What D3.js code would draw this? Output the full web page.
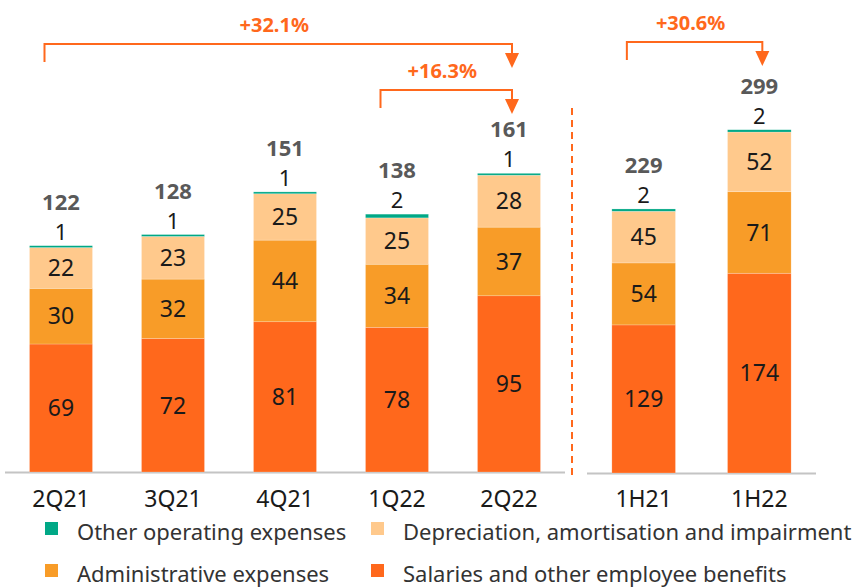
<!DOCTYPE html>
<html>
<head>
<meta charset="utf-8">
<script src="https://cdn.jsdelivr.net/npm/d3@7"></script>
<style>
  html, body { margin: 0; padding: 0; background: #fff; }
  svg { display: block; }
</style>
</head>
<body>
<div id="chart"></div>
<script>
// values in EUR m
const quarters = ["2Q21", "3Q21", "4Q21", "1Q22", "2Q22"];
const halves = ["1H21", "1H22"];

const salariesQ = [69, 72, 81, 78, 95];
const adminQ = [30, 32, 44, 34, 37];
const deprQ = [22, 23, 25, 25, 28];
const otherQ = [1, 1, 1, 2, 1];
const totalQ = [122, 128, 151, 138, 161];

const salariesH = [129, 174];
const adminH = [54, 71];
const deprH = [45, 52];
const otherH = [2, 2];
const totalH = [229, 299];

const seriesNames = [
  "Salaries and other employee benefits",
  "Administrative expenses",
  "Depreciation, amortisation and impairment",
  "Other operating expenses"
];
const legendOrder = [3, 2, 1, 0];

const growthQ = [
  {from: "2Q21", to: "2Q22", label: "+32.1%"},
  {from: "1Q22", to: "2Q22", label: "+16.3%"}
];
const growthH = [
  {from: "1H21", to: "1H22", label: "+30.6%"}
];

const width = 859, height = 588;
const keys = ["salaries", "admin", "depr", "other"];
const colors = ["#ff681c", "#f89c28", "#ffc98c", "#00a886"];
const orange = "#ff681c";
const font = "'Noto Sans', sans-serif";

const svg = d3.select("#chart").append("svg")
    .attr("width", width)
    .attr("height", height)
    .attr("font-family", font);

function rows(cats, s, a, d, o) {
  return cats.map((c, i) => ({cat: c, salaries: s[i], admin: a[i], depr: d[i], other: o[i]}));
}

function panel(cats, data, totals, x, y, x0, x1, growth, levels) {
  const stacked = d3.stack().keys(keys)(data);

  // baseline
  svg.append("line")
      .attr("x1", x0).attr("x2", x1)
      .attr("y1", y(0) + 0.5).attr("y2", y(0) + 0.5)
      .attr("stroke", "#c4c4c4")
      .attr("stroke-width", 2);

  const layer = svg.append("g")
    .selectAll("g")
    .data(stacked)
    .join("g")
      .attr("fill", (d, i) => colors[i]);

  layer.selectAll("rect")
    .data(d => d)
    .join("rect")
      .attr("x", d => x(d.data.cat))
      .attr("width", x.bandwidth())
      .attr("y", d => y(d[1]))
      .attr("height", d => y(d[0]) - y(d[1]))
      .attr("stroke", "#fff")
      .attr("stroke-opacity", 0.35)
      .attr("stroke-width", 0.6);

  // values inside the three big segments
  stacked.slice(0, 3).forEach(s => {
    svg.append("g")
      .selectAll("text")
      .data(s)
      .join("text")
        .attr("x", d => x(d.data.cat) + x.bandwidth() / 2)
        .attr("y", d => (y(d[0]) + y(d[1])) / 2)
        .attr("dy", "0.36em")
        .attr("text-anchor", "middle")
        .attr("font-size", 23)
        .attr("fill", "#1a1a1a")
        .text(d => d[1] - d[0]);
  });

  // small "other" value above the bar, then the total
  const top = stacked[3];
  svg.append("g")
    .selectAll("text")
    .data(top)
    .join("text")
      .attr("x", d => x(d.data.cat) + x.bandwidth() / 2)
      .attr("y", d => y(d[1]) - 6)
      .attr("text-anchor", "middle")
      .attr("font-size", 22)
      .attr("fill", "#1a1a1a")
      .text(d => d[1] - d[0]);

  svg.append("g")
    .selectAll("text")
    .data(top)
    .join("text")
      .attr("x", d => x(d.data.cat) + x.bandwidth() / 2)
      .attr("y", d => y(d[1]) - 36)
      .attr("text-anchor", "middle")
      .attr("font-size", 22)
      .attr("font-weight", "bold")
      .attr("fill", "#595959")
      .text((d, i) => totals[i]);

  // category axis
  const axis = svg.append("g")
      .attr("transform", `translate(0,507)`)
      .call(d3.axisBottom(x).tickSize(0).tickPadding(0));
  axis.select(".domain").remove();
  axis.selectAll("text")
      .attr("font-family", font)
      .attr("font-size", 23)
      .attr("fill", "#1a1a1a")
      .attr("dy", null)
      .attr("y", 0);

  // growth brackets
  growth.forEach((g, i) => {
    const lv = levels[i];
    const xa = x(g.from) + 15;
    const xb = x(g.to) + x.bandwidth() / 2 + 3;
    svg.append("path")
        .attr("fill", "none")
        .attr("stroke", orange)
        .attr("stroke-width", 2)
        .attr("d", `M${xa},${lv + 18}V${lv}H${xb}V${lv + 10}`);
    svg.append("path")
        .attr("fill", orange)
        .attr("d", `M${xb - 7},${lv + 9}H${xb + 7}L${xb},${lv + 24}Z`);
    svg.append("text")
        .attr("x", (xa + xb) / 2 - 4)
        .attr("y", lv - 12)
        .attr("text-anchor", "middle")
        .attr("font-size", 20)
        .attr("font-weight", "bold")
        .attr("fill", orange)
        .text(g.label);
  });
}

const xQ = d3.scaleBand().domain(quarters).range([5, 565]).paddingInner(0.4375).paddingOuter(0.21875);
const yQ = d3.scaleLinear().domain([0, 170]).range([472, 472 - 170 * 1.855]);
panel(quarters, rows(quarters, salariesQ, adminQ, deprQ, otherQ), totalQ, xQ, yQ, 5, 565, growthQ, [44, 90]);

const xH = d3.scaleBand().domain(halves).range([587, 816]).paddingInner(0.45).paddingOuter(0.215);
const yH = d3.scaleLinear().domain([0, 300]).range([473, 473 - 300 * 1.148]);
panel(halves, rows(halves, salariesH, adminH, deprH, otherH), totalH, xH, yH, 587, 816, growthH, [42]);

// separator between quarterly and half-year panels
svg.append("line")
    .attr("x1", 572).attr("x2", 572)
    .attr("y1", 108).attr("y2", 480)
    .attr("stroke", orange)
    .attr("stroke-width", 2)
    .attr("stroke-dasharray", "7,5");

// legend, two columns
const legend = svg.append("g")
  .selectAll("g")
  .data(legendOrder)
  .join("g")
    .attr("transform", (d, i) => `translate(${i % 2 ? 371 : 45},${i < 2 ? 540 : 582})`);

legend.append("rect")
    .attr("x", 0).attr("y", -18)
    .attr("width", 13).attr("height", 13)
    .attr("fill", d => colors[d]);

legend.append("text")
    .attr("x", 32)
    .attr("y", 0)
    .attr("font-size", 22)
    .attr("fill", "#333")
    .text(d => seriesNames[d]);
</script>
</body>
</html>
